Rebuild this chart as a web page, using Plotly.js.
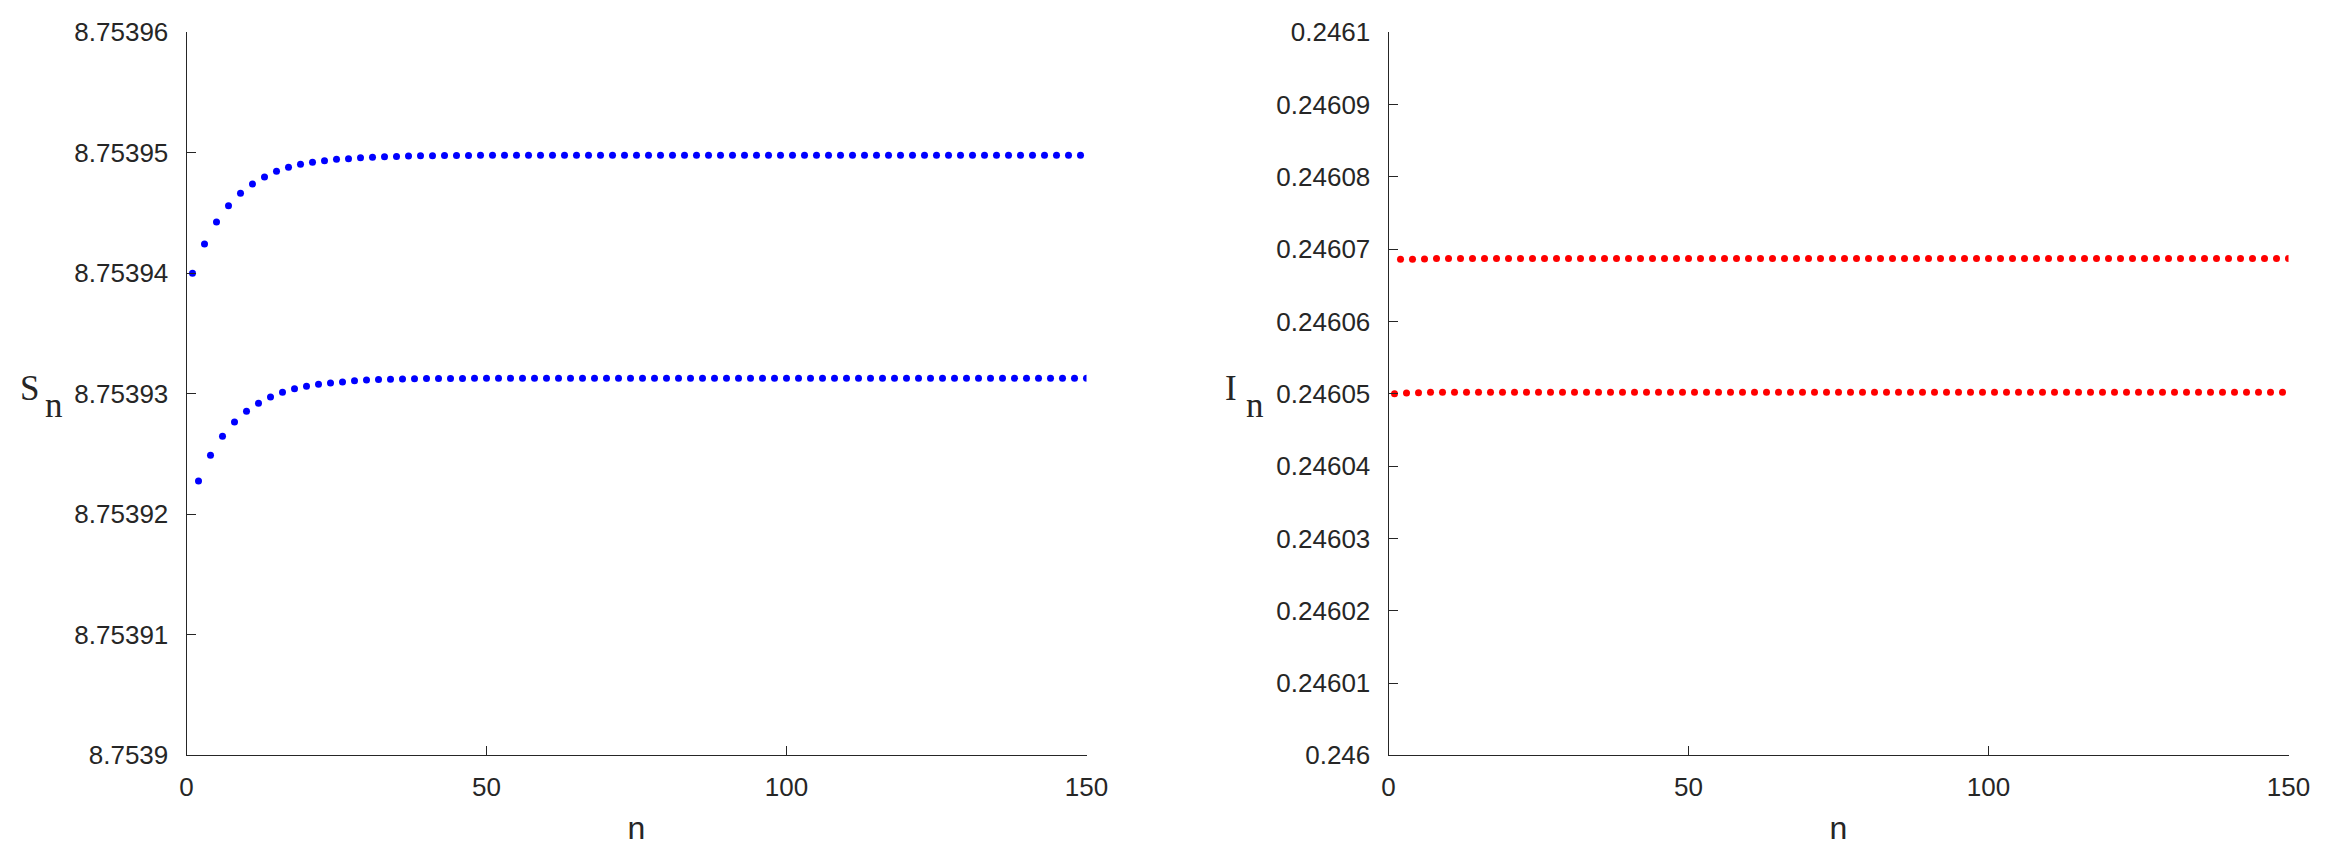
<!DOCTYPE html>
<html>
<head>
<meta charset="utf-8">
<script src="https://cdn.plot.ly/plotly-3.0.1.min.js"></script>
<style>
  html, body { margin: 0; padding: 0; background: #ffffff; }
  #chart { width: 2332px; height: 854px; }
</style>
</head>
<body>
<div id="chart"></div>
<script>
// ---- data ----
const nOdd = [1,3,5,7,9,11,13,15,17,19,21,23,25,27,29,31,33,35,37,39,41,43,45,47,49,51,53,55,57,59,61,63,65,67,69,71,73,75,77,79,81,83,85,87,89,91,93,95,97,99,101,103,105,107,109,111,113,115,117,119,121,123,125,127,129,131,133,135,137,139,141,143,145,147,149];
const nEven = [2,4,6,8,10,12,14,16,18,20,22,24,26,28,30,32,34,36,38,40,42,44,46,48,50,52,54,56,58,60,62,64,66,68,70,72,74,76,78,80,82,84,86,88,90,92,94,96,98,100,102,104,106,108,110,112,114,116,118,120,122,124,126,128,130,132,134,136,138,140,142,144,146,148,150];

// S_n, odd n (upper branch)
const sUpper = [8.75394000,8.75394243,8.75394426,8.75394561,8.75394664,8.75394741,8.75394799,8.75394846,8.75394880,8.75394904,
  8.75394921,8.75394934,8.75394946,8.75394951,8.75394959,8.75394963,8.75394967,8.75394970,8.75394973,8.75394975,
  8.75394976,8.75394977,8.75394978,8.75394978,8.75394979,8.75394980,8.75394980,8.75394980,8.75394980,8.75394980,
  8.75394980,8.75394980,8.75394980,8.75394980,8.75394980,8.75394980,8.75394980,8.75394980,8.75394980,8.75394980,
  8.75394980,8.75394980,8.75394980,8.75394980,8.75394980,8.75394980,8.75394980,8.75394980,8.75394980,8.75394980,
  8.75394980,8.75394980,8.75394980,8.75394980,8.75394980,8.75394980,8.75394980,8.75394980,8.75394980,8.75394980,
  8.75394980,8.75394980,8.75394980,8.75394980,8.75394980,8.75394980,8.75394980,8.75394980,8.75394980,8.75394980,
  8.75394980,8.75394980,8.75394980,8.75394980,8.75394980];
// S_n, even n (lower branch)
const sLower = [8.75392276,8.75392490,8.75392647,8.75392766,8.75392855,8.75392921,8.75392973,8.75393012,8.75393042,8.75393062,
  8.75393079,8.75393090,8.75393098,8.75393109,8.75393114,8.75393118,8.75393121,8.75393123,8.75393125,8.75393126,
  8.75393127,8.75393128,8.75393128,8.75393129,8.75393129,8.75393130,8.75393130,8.75393130,8.75393130,8.75393130,
  8.75393130,8.75393130,8.75393130,8.75393130,8.75393130,8.75393130,8.75393130,8.75393130,8.75393130,8.75393130,
  8.75393130,8.75393130,8.75393130,8.75393130,8.75393130,8.75393130,8.75393130,8.75393130,8.75393130,8.75393130,
  8.75393130,8.75393130,8.75393130,8.75393130,8.75393130,8.75393130,8.75393130,8.75393130,8.75393130,8.75393130,
  8.75393130,8.75393130,8.75393130,8.75393130,8.75393130,8.75393130,8.75393130,8.75393130,8.75393130,8.75393130,
  8.75393130,8.75393130,8.75393130,8.75393130,8.75393130];

// I_n, even n (upper branch)
const iUpper = [0.24606860,0.24606860,0.24606865,0.24606870,0.24606870,0.24606870,0.24606870,0.24606870,0.24606870,0.24606870,
  0.24606870,0.24606870,0.24606870,0.24606870,0.24606870,0.24606870,0.24606870,0.24606870,0.24606870,0.24606870,
  0.24606870,0.24606870,0.24606870,0.24606870,0.24606870,0.24606870,0.24606870,0.24606870,0.24606870,0.24606870,
  0.24606870,0.24606870,0.24606870,0.24606870,0.24606870,0.24606870,0.24606870,0.24606870,0.24606870,0.24606870,
  0.24606870,0.24606870,0.24606870,0.24606870,0.24606870,0.24606870,0.24606870,0.24606870,0.24606870,0.24606870,
  0.24606870,0.24606870,0.24606870,0.24606870,0.24606870,0.24606870,0.24606870,0.24606870,0.24606870,0.24606870,
  0.24606870,0.24606870,0.24606870,0.24606870,0.24606870,0.24606870,0.24606870,0.24606870,0.24606870,0.24606870,
  0.24606870,0.24606870,0.24606870,0.24606870,0.24606870];
// I_n, odd n (lower branch)
const iLower = [0.24605000,0.24605010,0.24605015,0.24605020,0.24605020,0.24605020,0.24605020,0.24605020,0.24605020,0.24605020,
  0.24605020,0.24605020,0.24605020,0.24605020,0.24605020,0.24605020,0.24605020,0.24605020,0.24605020,0.24605020,
  0.24605020,0.24605020,0.24605020,0.24605020,0.24605020,0.24605020,0.24605020,0.24605020,0.24605020,0.24605020,
  0.24605020,0.24605020,0.24605020,0.24605020,0.24605020,0.24605020,0.24605020,0.24605020,0.24605020,0.24605020,
  0.24605020,0.24605020,0.24605020,0.24605020,0.24605020,0.24605020,0.24605020,0.24605020,0.24605020,0.24605020,
  0.24605020,0.24605020,0.24605020,0.24605020,0.24605020,0.24605020,0.24605020,0.24605020,0.24605020,0.24605020,
  0.24605020,0.24605020,0.24605020,0.24605020,0.24605020,0.24605020,0.24605020,0.24605020,0.24605020,0.24605020,
  0.24605020,0.24605020,0.24605020,0.24605020,0.24605020];

// tick values / labels
const xTicks = [0, 50, 100, 150];
const xTickText = ['0', '50', '100', '150'];
const sTicks = [8.7539, 8.75391, 8.75392, 8.75393, 8.75394, 8.75395, 8.75396];
const sTickText = ['8.7539', '8.75391', '8.75392', '8.75393', '8.75394', '8.75395', '8.75396'];
const iTicks = [0.246, 0.24601, 0.24602, 0.24603, 0.24604, 0.24605, 0.24606, 0.24607, 0.24608, 0.24609, 0.2461];
const iTickText = ['0.246', '0.24601', '0.24602', '0.24603', '0.24604', '0.24605', '0.24606', '0.24607', '0.24608', '0.24609', '0.2461'];

// ---- drawing ----
const W = 2332, H = 854;
const AX = '#262626';
const tickFont = {family: 'Liberation Sans, Arial, sans-serif', size: 26, color: AX};
const labelFont = {family: 'Liberation Serif, Times New Roman, serif', size: 35, color: AX};
const px = v => v / W;
const py = v => 1 - v / H;

function mk(x, y, color, xa, ya) {
  return {x: x, y: y, type: 'scatter', mode: 'markers', xaxis: xa, yaxis: ya,
          marker: {color: color, size: 7, line: {width: 0}}, hoverinfo: 'x+y', showlegend: false};
}

const data = [
  mk(nOdd, sUpper, '#0000ff', 'x', 'y'),
  mk(nEven, sLower, '#0000ff', 'x', 'y'),
  mk(nEven, iUpper, '#ff0000', 'x2', 'y2'),
  mk(nOdd, iLower, '#ff0000', 'x2', 'y2')
];

function xAxis(domain, anchor) {
  return {
    domain: domain, anchor: anchor, range: [0, 150],
    tickmode: 'array', tickvals: xTicks, ticktext: xTickText,
    ticks: 'inside', ticklen: 9, tickwidth: 1, tickcolor: AX,
    showline: true, linecolor: AX, linewidth: 1,
    showgrid: false, zeroline: false, tickfont: tickFont,
    ticklabelstandoff: 8,
    title: {text: 'n', font: {family: 'Liberation Sans, Arial, sans-serif', size: 32, color: AX}, standoff: 16}
  };
}
function yAxis(domain, anchor, range, tv, tt) {
  return {
    domain: domain, anchor: anchor, range: range,
    tickmode: 'array', tickvals: tv, ticktext: tt,
    ticks: 'inside', ticklen: 9, tickwidth: 1, tickcolor: AX,
    showline: true, linecolor: AX, linewidth: 1,
    showgrid: false, zeroline: false, tickfont: tickFont,
    ticklabelstandoff: 12
  };
}

const yDom = [py(755.3), py(32.3)];
const layout = {
  width: W, height: H,
  margin: {l: 0, r: 0, t: 0, b: 0, pad: 0},
  paper_bgcolor: '#ffffff', plot_bgcolor: '#ffffff',
  xaxis: xAxis([px(186.5), px(1086.5)], 'y'),
  yaxis: yAxis(yDom, 'x', [8.7539, 8.75396], sTicks, sTickText),
  xaxis2: xAxis([px(1388.5), px(2288.5)], 'y2'),
  yaxis2: yAxis(yDom, 'x2', [0.246, 0.2461], iTicks, iTickText),
  annotations: [
    {text: 'S', xref: 'paper', yref: 'paper', x: px(29.5), y: py(388), xanchor: 'center', yanchor: 'middle', showarrow: false, font: labelFont},
    {text: 'n', xref: 'paper', yref: 'paper', x: px(53.5), y: py(405), xanchor: 'center', yanchor: 'middle', showarrow: false, font: labelFont},
    {text: 'I', xref: 'paper', yref: 'paper', x: px(1231), y: py(388), xanchor: 'center', yanchor: 'middle', showarrow: false, font: labelFont},
    {text: 'n', xref: 'paper', yref: 'paper', x: px(1254.5), y: py(405), xanchor: 'center', yanchor: 'middle', showarrow: false, font: labelFont}
  ]
};

Plotly.newPlot('chart', data, layout, {displayModeBar: false, staticPlot: true});
</script>
</body>
</html>
